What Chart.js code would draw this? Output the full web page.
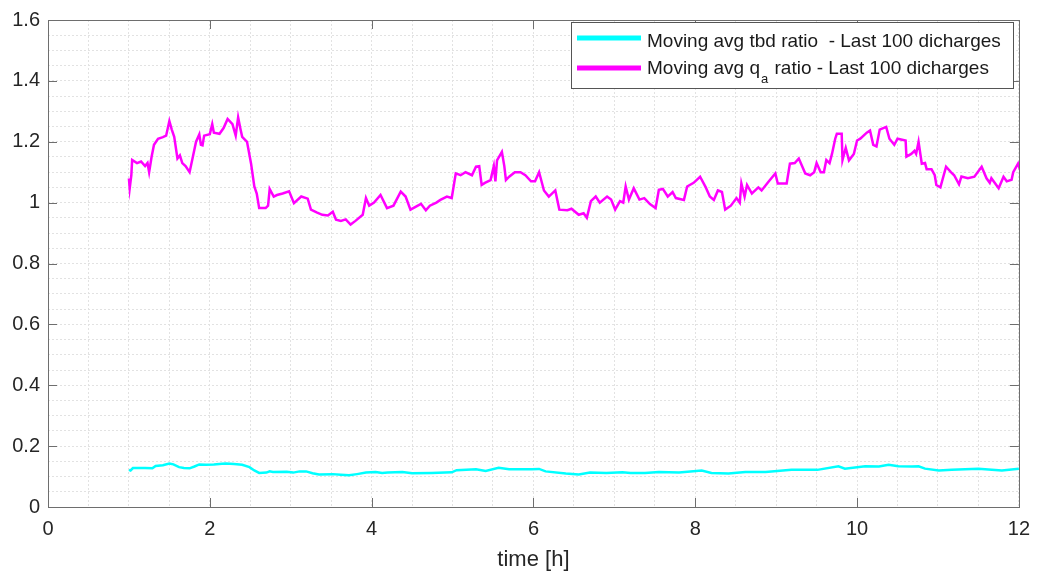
<!DOCTYPE html>
<html><head><meta charset="utf-8">
<script src="https://cdn.jsdelivr.net/npm/chart.js@4.4.1/dist/chart.umd.min.js"></script>
<style>html,body{margin:0;padding:0;background:#fff}</style>
</head><body>
<canvas id="c" width="1040" height="577"></canvas>
<script>
// ---- data ----
const qaTime = [1.00,1.01,1.03,1.04,1.10,1.15,1.20,1.23,1.25,1.28,1.31,1.36,1.42,1.46,1.50,1.53,1.56,1.60,1.63,1.66,1.70,1.75,1.79,1.83,1.87,1.89,1.91,1.93,2.00,2.03,2.05,2.12,2.17,2.22,2.28,2.32,2.35,2.38,2.40,2.46,2.51,2.55,2.58,2.61,2.69,2.72,2.74,2.76,2.79,2.83,2.90,2.98,3.04,3.13,3.21,3.25,3.32,3.39,3.46,3.52,3.56,3.62,3.68,3.74,3.80,3.89,3.93,3.97,4.03,4.11,4.19,4.27,4.36,4.42,4.48,4.61,4.67,4.72,4.80,4.85,4.93,4.99,5.04,5.10,5.16,5.24,5.29,5.33,5.36,5.40,5.47,5.51,5.53,5.55,5.61,5.64,5.66,5.70,5.77,5.84,5.90,5.97,6.02,6.07,6.13,6.19,6.27,6.32,6.42,6.47,6.56,6.62,6.66,6.71,6.77,6.82,6.91,6.96,7.01,7.07,7.11,7.14,7.18,7.24,7.31,7.37,7.44,7.51,7.55,7.60,7.66,7.72,7.76,7.86,7.90,7.98,8.06,8.13,8.18,8.23,8.28,8.33,8.37,8.44,8.51,8.55,8.57,8.61,8.64,8.70,8.78,8.82,8.91,8.99,9.02,9.13,9.17,9.23,9.28,9.36,9.42,9.47,9.50,9.55,9.59,9.62,9.66,9.69,9.73,9.75,9.81,9.82,9.86,9.90,9.96,10.00,10.04,10.12,10.16,10.20,10.24,10.28,10.36,10.40,10.46,10.50,10.60,10.61,10.67,10.71,10.73,10.76,10.80,10.84,10.86,10.92,10.96,10.98,11.03,11.10,11.16,11.20,11.26,11.29,11.37,11.45,11.54,11.60,11.64,11.66,11.75,11.81,11.85,11.91,11.93,11.99,12.00];
const qaRatio = [1.08,1.047,1.09,1.14,1.13,1.135,1.12,1.13,1.10,1.15,1.19,1.21,1.215,1.22,1.268,1.24,1.216,1.145,1.155,1.13,1.12,1.10,1.15,1.20,1.224,1.19,1.188,1.22,1.225,1.258,1.23,1.226,1.245,1.275,1.258,1.22,1.28,1.24,1.216,1.20,1.128,1.053,1.03,0.982,0.982,0.99,1.045,1.035,1.02,1.025,1.03,1.037,0.998,1.02,1.013,0.977,0.968,0.96,0.958,0.97,0.944,0.94,0.945,0.928,0.94,0.96,1.015,0.99,1.00,1.025,0.982,0.99,1.036,1.02,0.977,0.996,0.975,0.99,1.00,1.009,1.02,1.015,1.096,1.09,1.10,1.09,1.118,1.12,1.058,1.065,1.074,1.12,1.07,1.139,1.167,1.12,1.074,1.085,1.10,1.10,1.09,1.07,1.07,1.10,1.04,1.02,1.04,0.977,0.975,0.98,0.96,0.965,0.95,1.005,1.02,1.00,1.02,1.01,0.977,1.005,1.00,1.053,1.01,1.047,1.01,1.015,0.995,0.982,1.042,1.045,1.02,1.035,1.015,1.009,1.053,1.065,1.085,1.05,1.02,1.009,1.04,1.035,0.977,0.99,1.015,1.00,1.063,1.02,1.058,1.03,1.05,1.04,1.07,1.096,1.063,1.063,1.128,1.13,1.145,1.096,1.09,1.10,1.13,1.10,1.10,1.14,1.13,1.16,1.21,1.226,1.226,1.14,1.18,1.139,1.16,1.204,1.21,1.23,1.237,1.19,1.185,1.24,1.249,1.21,1.19,1.21,1.204,1.151,1.16,1.17,1.16,1.20,1.128,1.13,1.11,1.11,1.09,1.058,1.05,1.118,1.10,1.09,1.06,1.086,1.08,1.085,1.118,1.08,1.065,1.08,1.047,1.085,1.07,1.075,1.10,1.128,1.12];
const tbdTime = [1.00,1.02,1.05,1.20,1.29,1.33,1.42,1.50,1.55,1.62,1.68,1.75,1.81,1.87,1.95,2.05,2.15,2.20,2.30,2.40,2.49,2.55,2.61,2.70,2.74,2.78,2.95,3.03,3.11,3.19,3.27,3.35,3.52,3.62,3.72,3.82,3.93,4.05,4.13,4.20,4.38,4.50,4.74,4.99,5.05,5.29,5.41,5.57,5.70,5.98,6.07,6.15,6.40,6.56,6.70,6.90,7.10,7.20,7.38,7.55,7.80,8.08,8.20,8.41,8.62,8.87,9.19,9.51,9.77,9.85,10.10,10.27,10.39,10.51,10.68,10.76,10.84,11.01,11.17,11.50,11.79,12.00];
const tbdRatio = [0.122,0.12,0.128,0.128,0.127,0.135,0.137,0.143,0.14,0.131,0.128,0.127,0.133,0.14,0.139,0.14,0.142,0.143,0.141,0.139,0.131,0.12,0.112,0.113,0.117,0.115,0.116,0.113,0.117,0.117,0.111,0.107,0.108,0.106,0.104,0.108,0.113,0.115,0.112,0.113,0.115,0.111,0.112,0.114,0.121,0.124,0.118,0.129,0.124,0.124,0.125,0.117,0.110,0.107,0.113,0.112,0.114,0.112,0.112,0.115,0.113,0.12,0.112,0.11,0.115,0.115,0.122,0.122,0.134,0.126,0.134,0.133,0.139,0.134,0.133,0.134,0.126,0.12,0.122,0.126,0.120,0.126];
const xTickLabels = [0,2,4,6,8,10,12];
const yTickLabels = [0,0.2,0.4,0.6,0.8,1,1.2,1.4,1.6];
const xAxisTitle = 'time [h]';
const tbdLabel = 'Moving avg tbd ratio  - Last 100 dicharges';
const qaLabelParts = ['Moving avg q', 'a', ' ratio - Last 100 dicharges'];

const AXIS = '#6e6e6e', TXT = '#262626', GRID = '#e2e2e2';
const FONT = '"Liberation Sans", Arial, Helvetica, sans-serif';

const frame = {
  id: 'frame',
  afterDraw(chart) {
    const {ctx, chartArea: a, scales: {x, y}} = chart;
    ctx.save();
    ctx.strokeStyle = AXIS; ctx.lineWidth = 1;
    ctx.strokeRect(Math.round(a.left)+0.5, Math.round(a.top)+0.5, Math.round(a.right-a.left), Math.round(a.bottom-a.top));
    ctx.beginPath();
    const tl = 9;
    xTickLabels.forEach(v => {
      const px = Math.round(x.getPixelForValue(v))+0.5;
      ctx.moveTo(px, a.bottom); ctx.lineTo(px, a.bottom - tl);
      ctx.moveTo(px, a.top); ctx.lineTo(px, a.top + tl);
    });
    yTickLabels.forEach(v => {
      const py = Math.round(y.getPixelForValue(v))+0.5;
      ctx.moveTo(a.left, py); ctx.lineTo(a.left + tl, py);
      ctx.moveTo(a.right, py); ctx.lineTo(a.right - tl, py);
    });
    ctx.stroke();
    // legend
    const L = 571.5, T = 22.5, W = 442, H = 66;
    ctx.fillStyle = '#fff'; ctx.fillRect(L, T, W, H);
    ctx.lineWidth = 1; ctx.strokeStyle = '#555'; ctx.strokeRect(L, T, W, H);
    ctx.lineWidth = 5; ctx.lineCap = 'butt';
    ctx.strokeStyle = '#00ffff';
    ctx.beginPath(); ctx.moveTo(577, 38); ctx.lineTo(641, 38); ctx.stroke();
    ctx.strokeStyle = '#ff00ff';
    ctx.beginPath(); ctx.moveTo(577, 68); ctx.lineTo(641, 68); ctx.stroke();
    ctx.fillStyle = '#1a1a1a'; ctx.textBaseline = 'alphabetic'; ctx.textAlign = 'left';
    ctx.font = '19px ' + FONT;
    ctx.fillText(tbdLabel, 647, 46.5);
    let tx = 647;
    ctx.fillText(qaLabelParts[0], tx, 73.5);
    tx += ctx.measureText(qaLabelParts[0]).width + 1;
    ctx.font = '13px ' + FONT;
    ctx.fillText(qaLabelParts[1], tx, 83);
    tx += ctx.measureText(qaLabelParts[1]).width + 1;
    ctx.font = '19px ' + FONT;
    ctx.fillText(qaLabelParts[2], tx, 73.5);
    ctx.restore();
  }
};

new Chart(document.getElementById('c'), {
  type: 'scatter',
  data: {
    datasets: [
      { label: tbdLabel, data: tbdTime.map((t, i) => ({x: t, y: tbdRatio[i]})), showLine: true,
        borderColor: '#00ffff', backgroundColor: '#00ffff', borderWidth: 2.5, pointRadius: 0, tension: 0 },
      { label: qaLabelParts.join(''), data: qaTime.map((t, i) => ({x: t, y: qaRatio[i]})), showLine: true,
        borderColor: '#ff00ff', backgroundColor: '#ff00ff', borderWidth: 2.5, pointRadius: 0, tension: 0 }
    ]
  },
  options: {
    responsive: false, animation: false, devicePixelRatio: 1,
    layout: { padding: { top: 15, right: 20, left: 0, bottom: 0 } },
    plugins: { legend: { display: false }, tooltip: { enabled: false } },
    scales: {
      x: {
        type: 'linear', min: 0, max: 12,
        afterFit: s => { s.height = 70; },
        ticks: { stepSize: 0.5, autoSkip: false, maxRotation: 0, padding: 10,
          color: TXT, font: { size: 20, family: FONT },
          callback: v => xTickLabels.includes(v) ? String(v) : '' },
        grid: { color: GRID, lineWidth: 1, drawTicks: false },
        border: { display: false, dash: [2, 2] },
        title: { display: true, text: xAxisTitle, color: TXT, font: { size: 22, family: FONT }, padding: { top: 4 } }
      },
      y: {
        type: 'linear', min: 0, max: 1.6,
        afterFit: s => { s.width = 48; },
        ticks: { stepSize: 0.05, autoSkip: false, padding: 8,
          color: TXT, font: { size: 20, family: FONT },
          callback: v => { const r = Math.round(v * 10) / 10; return (Math.abs(r - v) < 1e-6 && yTickLabels.includes(r) && Math.round(v*100) % 20 === 0) ? String(r) : ''; } },
        grid: { color: GRID, lineWidth: 1, drawTicks: false },
        border: { display: false, dash: [2, 2] }
      }
    }
  },
  plugins: [frame]
});
</script>
</body></html>
